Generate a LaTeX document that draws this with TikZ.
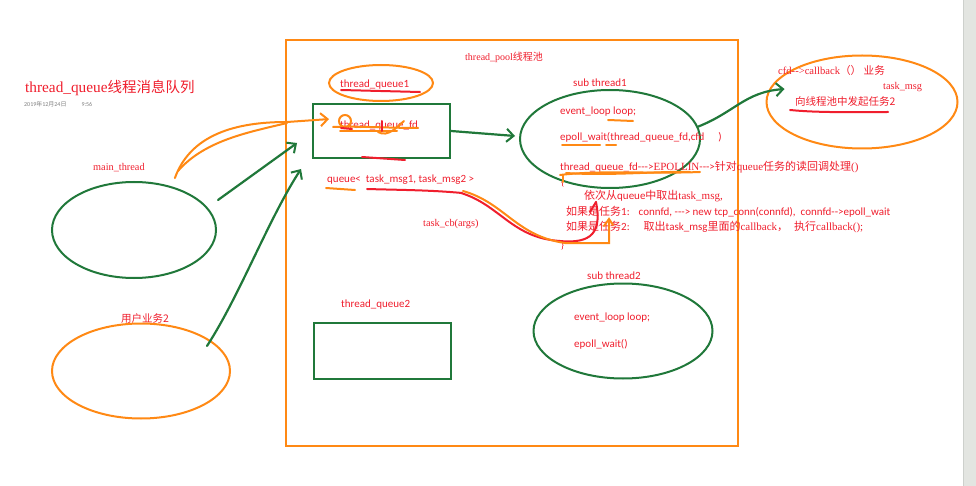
\documentclass[tikz,border=0pt]{standalone}
\usepackage{fontspec}
\setmainfont[Ligatures=TeXOff]{Liberation Serif}
\setsansfont[Ligatures=TeXOff]{Carlito}
\newfontfamily\cjk{Noto Sans CJK SC}
\usetikzlibrary{shapes.geometric,arrows.meta,calc}
\definecolor{pen}{RGB}{240,30,45}
\definecolor{org}{RGB}{255,137,20}
\definecolor{grn}{RGB}{32,120,58}
\definecolor{strip}{RGB}{227,229,225}
\definecolor{stripedge}{RGB}{205,208,204}
\newcommand\zh[1]{{\cjk #1}}
\begin{document}
\begin{tikzpicture}[x=1pt,y=-1pt,
  lbl/.style={text=pen, inner sep=0pt, anchor=base west, font=\sffamily\fontsize{11}{12}\selectfont},
  slbl/.style={lbl, font=\rmfamily\fontsize{10.3}{12}\selectfont},
  zlbl/.style={lbl, font=\cjk\fontsize{10.5}{12}\selectfont},
  gshape/.style={draw=grn, line width=2pt, inner sep=0pt},
  oshape/.style={draw=org, line width=2pt, inner sep=0pt},
  garrow/.style={draw=grn, line width=2.2pt, line cap=round, -{Straight Barb[length=7pt,width=13pt,line width=2pt]}},
  oarrow/.style={draw=org, line width=2pt, line cap=round, -{Straight Barb[length=7pt,width=13pt,line width=2pt]}},
  ostroke/.style={draw=org, line width=2pt, line cap=round},
  rstroke/.style={draw=pen, line width=2pt, line cap=round},
  gstroke/.style={draw=grn, line width=2.2pt, line cap=round}
]
\useasboundingbox (0,0) rectangle (976,486);
\fill[white] (0,0) rectangle (976,486);
\fill[strip] (963,0) rectangle (976,486);
\draw[stripedge, line width=1pt] (963.5,0) -- (963.5,486);

% title
\node[lbl, font=\rmfamily\fontsize{15.3}{17}\selectfont] (title) at (25,93) {thread\_queue{\cjk\fontsize{14.5}{17}\selectfont 线程消息队列}};
\node[lbl, text=gray, font=\sffamily\fontsize{6}{7}\selectfont] (date) at (24,107) {2019{\cjk 年}12{\cjk 月}24{\cjk 日}\hspace{15pt}9:56};

% pool
\node[oshape, minimum width=452pt, minimum height=406pt] (pool) at (512,243) {};
\node[slbl, font=\rmfamily\fontsize{10}{11}\selectfont] (poollbl) at (465,61) {thread\_pool{\cjk\fontsize{10}{11}\selectfont 线程池}};

% left side
\node[slbl] (mainlbl) at (93,171) {main\_thread};
\node[gshape, ellipse, minimum width=164pt, minimum height=96pt] (mainE) at (134,230) {};
\node[zlbl] (userlbl) at (121,322) {用户业务2};
\node[oshape, ellipse, minimum width=178pt, minimum height=95pt] (userE) at (141,371) {};

% queue 1
\node[lbl] (q1lbl) at (340,88) {thread\_queue1};
\node[gshape, minimum width=137pt, minimum height=54pt] (q1box) at (381.5,131) {};
\node[lbl] (q1fd) at (340,129) {thread\_queue\_fd};
\node[lbl] (qlbl) at (327,183) {queue<\ \ task\_msg1, task\_msg2 >};
\node[slbl] (cblbl) at (423,226) {task\_cb(args)};

% queue 2
\node[lbl] (q2lbl) at (341,307) {thread\_queue2};
\node[gshape, minimum width=137pt, minimum height=56pt] (q2box) at (382.5,351) {};

% sub thread 1
\node[lbl] (s1lbl) at (573,87) {sub thread1};
\node[gshape, ellipse, minimum width=180pt, minimum height=98pt] (sub1) at (610,139) {};
\node[lbl] (s1a) at (560,115) {event\_loop loop;};
\node[lbl] (s1b) at (560,141) {epoll\_wait(thread\_queue\_fd,cfd\hspace{14pt})};
\node[lbl] (s1c) at (560,171) {thread\_queue\_fd--->{\rmfamily EPOLLIN}--->\zh{针对}{\rmfamily queue}\zh{任务的读回调处理}{\rmfamily ()}};
\node[slbl] (brace1) at (560,186) {\{};
\node[lbl] (l1) at (584,200) {\zh{依次从}queue\zh{中取出}{\rmfamily task\_msg,}};
\node[lbl] (l2) at (566,215) {\zh{如果是任务}1:\hspace{9pt}connfd, ---> new tcp\_conn(connfd),\ \ connfd-->epoll\_wait};
\node[lbl] (l3) at (566,231) {\zh{如果是任务}2:\hspace{14pt}\zh{取出}task\_msg\zh{里面的}{\rmfamily callback}\zh{，}\hspace{6pt}\zh{执行}{\rmfamily callback();}};
\node[slbl] (brace2) at (560,248) {\}};

% sub thread 2
\node[lbl] (s2lbl) at (587,279) {sub thread2};
\node[gshape, ellipse, minimum width=179pt, minimum height=95pt] (sub2) at (623,331) {};
\node[lbl] (s2a) at (574,320) {event\_loop loop;};
\node[lbl] (s2b) at (574,347) {epoll\_wait()};

% right ellipse
\node[oshape, ellipse, minimum width=191pt, minimum height=93pt] (rightE) at (862,102) {};
\node[slbl, font=\rmfamily\fontsize{10.6}{12}\selectfont] (cfdlbl) at (778,75) {cfd-->callback\zh{（）\ 业务}};
\node[slbl] (tmlbl) at (883,90) {task\_msg};
\node[zlbl] (r2lbl) at (795,106) {向线程池中发起任务2};

% green connectors
\draw[garrow] ($(mainE.east)+(1,-30)$) -- ($(q1box.west)+(-15,12)$);
\coordinate (u2s) at (207,346);
\draw[garrow] (u2s) .. controls (240,295) and (268,220) .. ($(q1box.south west)+(-11,10)$);
\draw[garrow] (q1box.east) -- ($(sub1.west)+(-4,-3)$);
\draw[garrow] (sub1.8) .. controls (735,112) and (745,92) .. ($(rightE.west)+(19,-13)$);

% orange connector main_thread -> thread_queue_fd
\draw[oarrow] ($(mainlbl.east)+(30,10)$) .. controls (192,130) and (245,122) .. (287,122) -- ($(q1fd.west)+(-11,-7)$);
\draw[ostroke] ($(mainlbl.east)+(33,3)$) .. controls (205,140) and (250,132) .. (287,123);

% red / orange swoosh from queue to task 2
\draw[rstroke] (461,193) .. controls (500,205) and (512,238) .. (560,241) .. controls (592,244) and (602,232) .. (596,202);
\draw[rstroke] (596,202) -- (590,212);
\draw[ostroke] (463,191) .. controls (505,203) and (516,236) .. (565,243) -- (609,243) -- (609,220);
\draw[ostroke] (604,226) -- (609,219) -- (613,225);

% hand decorations
\draw[ostroke] (381,83) ellipse [x radius=52, y radius=18];
\draw[rstroke] (341,90) -- (420,92);
\draw[ostroke] (345,121) circle [radius=6];
\draw[ostroke] (333,127) .. controls (360,126) and (390,128) .. (418,128);
\draw[ostroke] (340,131) -- (397,131);
\draw[rstroke] (341,128) -- (352,129);
\draw[rstroke] (382,121) -- (382,131);
\draw[ostroke] (378,132) .. controls (388,138) and (398,126) .. (404,121);
\draw[rstroke] (362,157) -- (405,160);
\draw[ostroke] (326,188) -- (355,190);
\draw[rstroke] (367,189) .. controls (400,190) and (430,190) .. (462,193);
\draw[ostroke] (608,120) -- (633,121);
\draw[ostroke] (562,145) -- (600,145);
\draw[ostroke] (606,145) -- (616,145);
\draw[ostroke] (560,175) .. controls (600,170) and (650,174) .. (700,172);
\draw[ostroke] (566,173) .. controls (610,176) and (660,171) .. (690,172);
\draw[ostroke] (563,175) -- (563,182);
\draw[rstroke] (790,110) .. controls (820,113) and (860,112) .. (888,112);
\end{tikzpicture}
\end{document}
